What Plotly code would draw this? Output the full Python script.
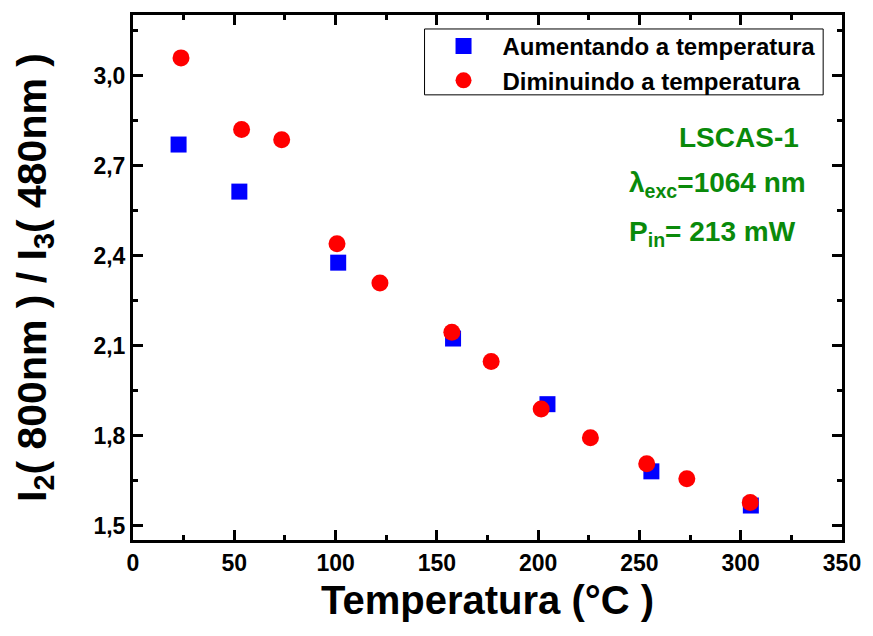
import plotly.graph_objects as go

# Heating run (blue squares)
temp_up = [22.5, 52.5, 101.3, 158.0, 204.6, 255.9, 305.0]
ratio_up = [2.771, 2.614, 2.377, 2.124, 1.905, 1.681, 1.567]

# Cooling run (red circles)
temp_down = [23.7, 53.6, 73.4, 100.7, 121.9, 157.4, 176.8, 201.5, 225.8, 253.6, 273.4, 304.7]
ratio_down = [3.060, 2.821, 2.787, 2.440, 2.309, 2.145, 2.047, 1.889, 1.793, 1.706, 1.656, 1.577]

series_names = ["Aumentando a temperatura", "Diminuindo a temperatura"]
x_title = "Temperatura (°C )"
y_title = "I<sub>2</sub>( 800nm ) / I<sub>3</sub>( 480nm )"
info_lines = ["LSCAS-1", "λ<sub>exc</sub>=1064 nm", "P<sub>in</sub>= 213 mW"]

FONT = "Liberation Sans, Arial, sans-serif"
GREEN = "#0a8a0a"

# plot area in pixels
L, R, T, B = 133, 848, 14, 540
W, H = R - L, B - T


def px(xp):
    return (xp - L) / W


def py(yp):
    return (B - yp) / H


fig = go.Figure()
fig.add_trace(go.Scatter(
    x=temp_up, y=ratio_up, mode="markers", name=series_names[0],
    marker=dict(symbol="square", size=16, color="#0000ff", line=dict(width=0)),
))
fig.add_trace(go.Scatter(
    x=temp_down, y=ratio_down, mode="markers", name=series_names[1],
    marker=dict(symbol="circle", size=17, color="#ff0000", line=dict(width=0)),
))

axis_common = dict(
    showline=True, linecolor="black", linewidth=3, mirror="allticks",
    ticks="inside", ticklen=10, tickwidth=2.5, tickcolor="black",
    showgrid=False, zeroline=False,
    tickfont=dict(family=FONT, size=23, color="black", weight="bold"),
)

fig.update_xaxes(
    range=[0, 350], tick0=0, dtick=50,
    minor=dict(dtick=25, ticks="inside", ticklen=5, tickwidth=2.5, tickcolor="black"),
    title=dict(text=x_title, font=dict(family=FONT, size=40, color="black", weight="bold"), standoff=12),
    **axis_common,
)
fig.update_yaxes(
    range=[1.452, 3.203], tick0=1.5, dtick=0.3, tickformat=".1f",
    minor=dict(dtick=0.15, tick0=1.5, ticks="inside", ticklen=5, tickwidth=2.5, tickcolor="black"),
    title=dict(text=y_title, font=dict(family=FONT, size=41, color="black", weight="bold"), standoff=35),
    **axis_common,
)

# Sample / excitation details
info_pos = [(744, 137), (722, 184), (717, 233)]
for text, (xp, yp) in zip(info_lines, info_pos):
    fig.add_annotation(
        text=text, xref="paper", yref="paper",
        x=px(xp), y=py(yp),
        xanchor="center", yanchor="middle", showarrow=False,
        font=dict(family=FONT, size=28, color=GREEN, weight="bold"),
    )

# legend frame
fig.add_shape(
    type="rect", xref="paper", yref="paper",
    x0=px(427), x1=px(829), y0=py(94), y1=py(28),
    line=dict(color="black", width=1), fillcolor="white", layer="above",
)

fig.update_layout(
    width=873, height=636,
    margin=dict(l=L, r=873 - R, t=T, b=636 - B),
    paper_bgcolor="white", plot_bgcolor="white",
    separators=", ",
    showlegend=True,
    legend=dict(
        x=px(427), y=py(23), xanchor="left", yanchor="top",
        bgcolor="rgba(0,0,0,0)", borderwidth=0,
        itemwidth=68,
        font=dict(family=FONT, size=24, color="black", weight="bold"),
    ),
)

fig.write_html("out.html")
